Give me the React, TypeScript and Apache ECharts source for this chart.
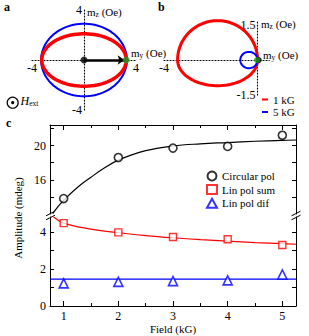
import React, { useEffect, useRef } from 'react';
import * as echarts from 'echarts';

const FONT = 'Liberation Serif';

// ---- panel c data ----
const FIELD = [1, 2, 3, 4, 5];
const FIELD_MINOR = [1.5, 2.5, 3.5, 4.5];
const CIRCULAR_POL = [13.8, 18.6, 19.7, 19.9, 21.2];
const LIN_POL_SUM = [4.47, 3.97, 3.72, 3.6, 3.29];
const LIN_POL_DIF = [1.22, 1.3, 1.34, 1.38, 1.7];
const CIRC_FIT_X = [0.8, 0.9, 1, 1.25, 1.5, 1.75, 2, 2.5, 3, 3.5, 4, 4.5, 5, 5.25];
const CIRC_FIT_Y = [12.05, 12.9, 13.6, 15.1, 16.3, 17.4, 18.3, 19.4, 19.95, 20.2, 20.35, 20.5, 20.6, 20.65];
const SUM_FIT_X = [0.78, 1, 1.5, 2, 2.5, 3, 3.5, 4, 4.5, 5, 5.25];
const SUM_FIT_Y = [4.9, 4.47, 4.15, 3.95, 3.8, 3.68, 3.58, 3.5, 3.42, 3.36, 3.33];
const DIF_FIT_X = [0.75, 5.25];
const DIF_FIT_Y = [1.45, 1.45];
const UPPER_TICKS = [14, 16, 18, 20, 22];
const UPPER_LABELS = [16, 20];
const LOWER_TICKS = [1, 2, 3, 4];
const LOWER_LABELS = [0, 2, 4];

// ---- panels a, b: loops [centerX, centerY, radiusX, radiusYTop, radiusYBottom] ----
const LOOP_A_5KG = [0, 0, 3.3, 2.9, 2.9];
const LOOP_A_1KG = [0, 0, 3.25, 2.1, 2.1];
const LOOP_B_1KG = [-1.71, 0, 1.71, 1.69, 1.1];
const LOOP_B_5KG = [-0.37, 0, 0.37, 0.35, 0.35];
const ARROW_A = [0, 0, 3.12, 0];
const TIP_A = [3.25, 0];
const A_LABELS = [-4, 4];
const B_X_LABELS = [-4];
const B_Y_LABELS = [-1.5, 1.5];

function loop(p: number[]) {
  const [cx, cy, rx, ryT, ryB] = p;
  const pts: number[][] = [];
  const n = 90;
  for (let i = 0; i <= n; i++) {
    const t = (2 * Math.PI * i) / n;
    const s = Math.sin(t);
    pts.push([cx + rx * Math.cos(t), cy + (s >= 0 ? ryT : ryB) * s]);
  }
  return pts;
}

const zip = (xs: number[], ys: number[]) => xs.map((x, i) => [x, ys[i]]);

const lbl = (extra: any = {}) => ({
  fontFamily: FONT,
  fontSize: 12,
  color: '#000',
  ...extra,
});

function dottedAxis(grid: number, position: string, offset: number, min: number, max: number, labels: number[]) {
  return {
    type: 'value',
    gridIndex: grid,
    position,
    offset,
    min,
    max,
    axisLine: { show: true, onZero: false, lineStyle: { type: [1, 2], color: '#000', width: 1.1 } },
    axisTick: { show: false },
    splitLine: { show: false },
    axisLabel: lbl({ customValues: labels, margin: 2 }),
  };
}

function frameAxis(grid: number, position: string, min: number, max: number, ticks: number[], tickLen: number, labels: number[] | null, showLine = true, extra: any = {}) {
  return {
    type: 'value',
    gridIndex: grid,
    position,
    min,
    max,
    axisLine: { show: showLine, onZero: false, lineStyle: { color: '#000', width: 1 } },
    axisTick: { show: true, inside: true, length: tickLen, customValues: ticks, lineStyle: { color: '#000', width: 1 } },
    splitLine: { show: false },
    axisLabel: labels ? lbl({ customValues: labels, margin: 4 }) : { show: false },
    ...extra,
  };
}

const subRich = {
  m: { fontFamily: FONT, fontSize: 11, color: '#000' },
  s: { fontFamily: FONT, fontSize: 7.5, color: '#000', verticalAlign: 'bottom', padding: [4, 0, 0, 0] },
};

function mLabel(x: number, y: number, sub: string) {
  return {
    type: 'text',
    x,
    y,
    style: { text: `{m|m}{s|${sub}}{m| (Oe)}`, rich: subRich, verticalAlign: 'middle', align: 'left' },
  };
}

function letter(x: number, y: number, t: string) {
  return {
    type: 'text',
    x,
    y,
    style: { text: t, fontFamily: FONT, fontSize: 12, fontWeight: 'bold', fill: '#000', verticalAlign: 'top' },
  };
}

function slash(x: number, y: number) {
  return {
    type: 'line',
    shape: { x1: x - 4.5, y1: y + 2.3, x2: x + 4.5, y2: y - 2.3 },
    style: { stroke: '#000', lineWidth: 1 },
  };
}

export default function App() {
  const ref = useRef<HTMLDivElement>(null);
  useEffect(() => {
    if (!ref.current) return;
    const chart = echarts.init(ref.current, undefined, { renderer: 'svg' });
    const option: any = {
      animation: false,
      backgroundColor: '#fff',
      textStyle: { fontFamily: FONT },
      grid: [
        { left: 32, top: 10, width: 104, height: 100 },
        { left: 164, top: 20.4, width: 105.3, height: 74.6 },
        { left: 50, right: 13, top: 125, height: 89 },
        { left: 50, right: 13, top: 217, height: 89 },
      ],
      xAxis: [
        dottedAxis(0, 'bottom', -50, -4, 4, A_LABELS),
        dottedAxis(1, 'bottom', -35, -4, 0.5, B_X_LABELS),
        frameAxis(2, 'top', 0.75, 5.25, FIELD, 5, null),
        frameAxis(2, 'top', 0.75, 5.25, FIELD_MINOR, 3, null, false),
        frameAxis(3, 'bottom', 0.75, 5.25, FIELD, 5, FIELD, true, {
          name: 'Field (kG)',
          nameLocation: 'middle',
          nameGap: 17,
          nameTextStyle: { fontFamily: FONT, fontSize: 11, color: '#000' },
        }),
        frameAxis(3, 'bottom', 0.75, 5.25, FIELD_MINOR, 3, null, false),
      ],
      yAxis: [
        dottedAxis(0, 'left', -52, -4, 4, A_LABELS),
        dottedAxis(1, 'left', -93.6, -1.5, 1.7, B_Y_LABELS),
        frameAxis(2, 'left', 12, 22.4, UPPER_TICKS, 4, UPPER_LABELS),
        frameAxis(2, 'right', 12, 22.4, UPPER_TICKS, 4, null),
        frameAxis(3, 'left', 0, 4.8, LOWER_TICKS, 4, LOWER_LABELS),
        frameAxis(3, 'right', 0, 4.8, LOWER_TICKS, 4, null),
      ],
      legend: [
        {
          data: ['Circular pol', 'Lin pol sum', 'Lin pol dif'],
          orient: 'vertical',
          left: 206,
          top: 170,
          padding: 0,
          itemWidth: 10,
          itemHeight: 9,
          itemGap: 1.6,
          selectedMode: false,
          textStyle: { fontFamily: FONT, fontSize: 11, color: '#000', lineHeight: 12 },
        },
        {
          data: [
            { name: '1 kG', icon: 'rect' },
            { name: '5 kG', icon: 'rect' },
          ],
          orient: 'vertical',
          left: 262,
          top: 94,
          padding: 0,
          itemWidth: 6,
          itemHeight: 2,
          itemGap: 1.5,
          selectedMode: false,
          textStyle: { fontFamily: FONT, fontSize: 11, color: '#000', lineHeight: 11 },
        },
      ],
      series: [
        // panel a
        {
          type: 'line', name: '5 kG', xAxisIndex: 0, yAxisIndex: 0, data: loop(LOOP_A_5KG),
          symbol: 'none', silent: true, lineStyle: { color: '#0000ff', width: 2 }, itemStyle: { color: '#0000ff' },
        },
        {
          type: 'line', name: '1 kG', xAxisIndex: 0, yAxisIndex: 0, data: loop(LOOP_A_1KG),
          symbol: 'none', silent: true, lineStyle: { color: '#ff0000', width: 3.5 }, itemStyle: { color: '#ff0000' },
        },
        {
          type: 'lines', coordinateSystem: 'cartesian2d', xAxisIndex: 0, yAxisIndex: 0, silent: true,
          data: [{ coords: [[ARROW_A[0], ARROW_A[1]], [ARROW_A[2], ARROW_A[3]]] }],
          symbol: ['none', 'arrow'], symbolSize: 7,
          lineStyle: { color: '#000', width: 2.5, opacity: 1, curveness: 0 }, z: 4,
        },
        {
          type: 'scatter', xAxisIndex: 0, yAxisIndex: 0, data: [[ARROW_A[0], ARROW_A[1]]], symbolSize: 7,
          itemStyle: { color: '#000' }, z: 5, silent: true,
        },
        {
          type: 'scatter', xAxisIndex: 0, yAxisIndex: 0, data: [TIP_A], symbolSize: 7,
          itemStyle: { color: '#1f9a1f' }, z: 5, silent: true,
        },
        // panel b
        {
          type: 'line', name: '1 kG', xAxisIndex: 1, yAxisIndex: 1, data: loop(LOOP_B_1KG),
          symbol: 'none', silent: true, lineStyle: { color: '#ff0000', width: 3 }, itemStyle: { color: '#ff0000' },
        },
        {
          type: 'line', name: '5 kG', xAxisIndex: 1, yAxisIndex: 1, data: loop(LOOP_B_5KG),
          symbol: 'none', silent: true, lineStyle: { color: '#0000ff', width: 2 }, itemStyle: { color: '#0000ff' },
        },
        {
          type: 'scatter', xAxisIndex: 1, yAxisIndex: 1, data: [[0.05, 0]], symbolSize: 6,
          itemStyle: { color: '#000' }, z: 5, silent: true,
        },
        {
          type: 'scatter', xAxisIndex: 1, yAxisIndex: 1, data: [[-0.03, 0]], symbolSize: 6,
          itemStyle: { color: '#1f9a1f' }, z: 6, silent: true,
        },
        // panel c fits
        {
          type: 'line', xAxisIndex: 2, yAxisIndex: 2, data: zip(CIRC_FIT_X, CIRC_FIT_Y), smooth: 0.4,
          symbol: 'none', silent: true, lineStyle: { color: '#000', width: 1.2 },
        },
        {
          type: 'line', xAxisIndex: 4, yAxisIndex: 4, data: zip(SUM_FIT_X, SUM_FIT_Y), smooth: 0.4,
          symbol: 'none', silent: true, lineStyle: { color: '#ff0000', width: 1.2 },
        },
        {
          type: 'line', xAxisIndex: 4, yAxisIndex: 4, data: zip(DIF_FIT_X, DIF_FIT_Y),
          symbol: 'none', silent: true, lineStyle: { color: '#0000ff', width: 1.4 },
        },
        // panel c points
        {
          type: 'scatter', name: 'Circular pol', xAxisIndex: 2, yAxisIndex: 2, data: zip(FIELD, CIRCULAR_POL),
          symbol: 'circle', symbolSize: 8, z: 5,
          itemStyle: { color: '#fff', borderColor: '#000', borderWidth: 1.6 },
        },
        {
          type: 'scatter', name: 'Lin pol sum', xAxisIndex: 4, yAxisIndex: 4, data: zip(FIELD, LIN_POL_SUM),
          symbol: 'rect', symbolSize: 7, z: 5,
          itemStyle: { color: '#fff', borderColor: '#ff0000', borderWidth: 1.4 },
        },
        {
          type: 'scatter', name: 'Lin pol dif', xAxisIndex: 4, yAxisIndex: 4, data: zip(FIELD, LIN_POL_DIF),
          symbol: 'triangle', symbolSize: 9, z: 5,
          itemStyle: { color: '#fff', borderColor: '#0000ff', borderWidth: 1.6 },
        },
      ],
      graphic: [
        letter(4, 1, 'a'),
        letter(158, 1, 'b'),
        letter(6, 117, 'c'),
        mLabel(87, 12, 'z'),
        mLabel(131, 53, 'y'),
        mLabel(261, 24, 'z'),
        mLabel(263, 55, 'y'),
        {
          type: 'circle', shape: { cx: 12.7, cy: 102.7, r: 5.5 },
          style: { fill: 'none', stroke: '#000', lineWidth: 1.2 },
        },
        { type: 'circle', shape: { cx: 12.7, cy: 102.7, r: 1.6 }, style: { fill: '#000' } },
        {
          type: 'text', x: 20.5, y: 101,
          style: {
            text: '{h|H}{s|ext}',
            verticalAlign: 'middle',
            rich: {
              h: { fontFamily: FONT, fontSize: 12, fontStyle: 'italic', color: '#000' },
              s: { fontFamily: FONT, fontSize: 7.5, color: '#000', verticalAlign: 'bottom', padding: [4, 0, 0, 0] },
            },
          },
        },
        {
          type: 'text', x: 18, y: 218, rotation: Math.PI / 2,
          style: {
            text: 'Amplitude (mdeg)', fontFamily: FONT, fontSize: 11, fill: '#000',
            align: 'center', verticalAlign: 'middle',
          },
        },
        slash(50.5, 213.5),
        slash(50.5, 217.5),
        slash(296, 213.5),
        slash(296, 217.5),
      ],
    };
    chart.setOption(option);
    return () => chart.dispose();
  }, []);
  return (
    <div
      ref={ref}
      style={{ position: 'absolute', left: 0, top: 0, width: 309, height: 336 }}
    />
  );
}
